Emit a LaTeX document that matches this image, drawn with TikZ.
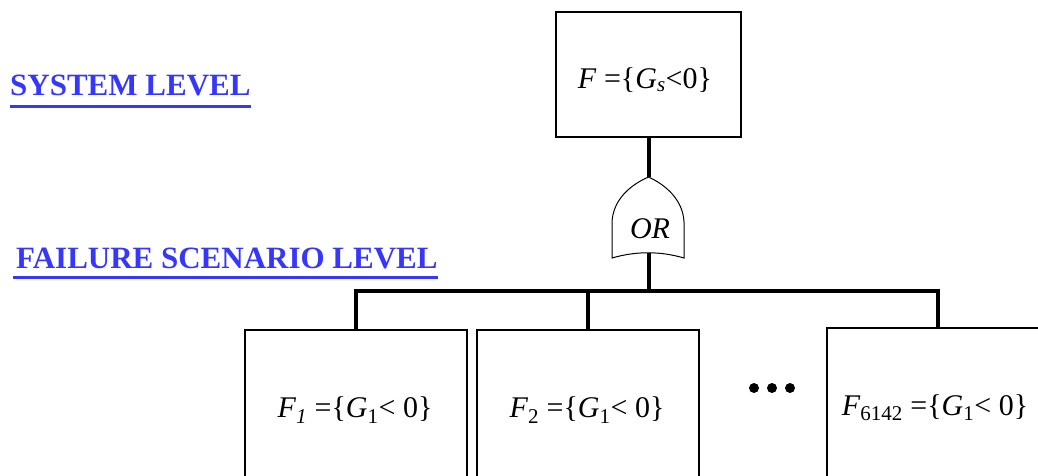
\documentclass[tikz,border=0pt]{standalone}
\usepackage{fontspec}
\setmainfont{Liberation Serif}
\definecolor{lblue}{RGB}{55,55,250}
\tikzset{
  conn/.style={line width=4pt, line join=miter},
  box/.style={draw, line width=1.5pt, inner sep=0pt, fill=white},
  lvl/.style={text=lblue, font=\fontsize{31}{31}\selectfont\bfseries, inner sep=0pt, anchor=base west},
  uline/.style={draw=lblue, line width=3pt},
  eqbig/.style={font=\fontsize{30}{30}\selectfont, inner sep=0pt},
  eqtop/.style={font=\fontsize{30}{30}\selectfont, inner sep=0pt, anchor=base},
  gate/.style={draw, line width=1pt, fill=white},
  dotnode/.style={circle, fill=black, inner sep=0pt, minimum size=10pt}
}
\begin{document}
\begin{tikzpicture}[x=1pt,y=-1pt]
\path[use as bounding box] (0,0) rectangle (1038,475);
\clip (0,0) rectangle (1038,475);

% level labels
\node[lvl] (sys) at (10,95) {SYSTEM LEVEL};
\draw[uline] ([yshift=-11pt]sys.base west) -- ([yshift=-11pt]sys.base east);
\node[lvl] (fail) at (16,268) {FAILURE SCENARIO LEVEL};
\draw[uline] ([yshift=-9pt,xshift=-3pt]fail.base west) -- ([yshift=-9pt]fail.base east);

% top event
\node[box, minimum width=185pt, minimum height=125pt] (top) at (648.5,74.5) {};
\node[eqtop] (toptxt) at (645,88) {\textit{F} =\{\textit{G}\textsubscript{\textit{s}}<0\}};

% OR gate
\coordinate (gtop) at (648.5,177);
\coordinate (gbot) at (648.5,253);
\draw[conn] (top.south) -- (gtop);
\draw[gate] (gtop) .. controls (630,185) and (613,200) .. (612,222) -- (612,258)
  .. controls (636,251) and (660,251) .. (684,258) -- (684,222)
  .. controls (683,200) and (666,185) .. (gtop) -- cycle;
\node[eqbig, font=\fontsize{30}{30}\selectfont\itshape] (ortxt) at (650,229) {OR};

% basic events
\node[box, minimum width=222pt, minimum height=160pt] (b1) at (356,410) {};
\node[box, minimum width=222pt, minimum height=160pt] (b2) at (588,410) {};
\node[box, minimum width=222pt, minimum height=164pt] (b3) at (938,410) {};
\node[eqbig] (t1) at (355,410) {\textit{F}\textsubscript{\textit{1}} =\{\textit{G}\textsubscript{1}< 0\}};
\node[eqbig] (t2) at (587,410) {\textit{F}\textsubscript{2} =\{\textit{G}\textsubscript{1}< 0\}};
\node[eqbig] (t3) at (935,408) {\textit{F}\textsubscript{6142} =\{\textit{G}\textsubscript{1}< 0\}};

% bus
\coordinate (bus) at (648.5,291);
\draw[conn] (gbot) -- (bus);
\draw[conn] (b1.north) |- (bus) -| (b3.north);
\draw[conn] (b2.north) -- (b2.north |- bus);

% dots
\node[dotnode] (d1) at (754,388) {};
\node[dotnode] (d2) at (772,388) {};
\node[dotnode] (d3) at (790,388) {};
\end{tikzpicture}
\end{document}
